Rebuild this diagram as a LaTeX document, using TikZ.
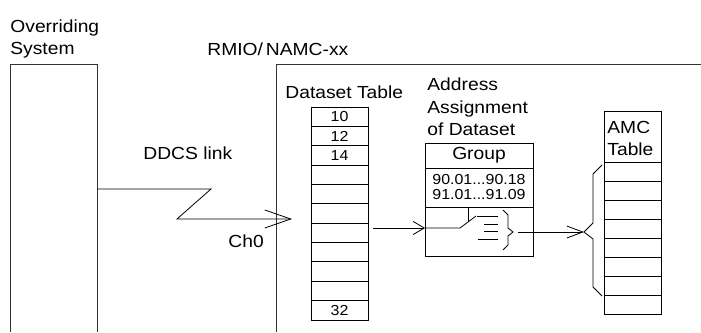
\documentclass[tikz,border=0pt]{standalone}
\usepackage{fontspec}
\setmainfont[FakeStretch=1.1]{Liberation Sans}
\usepackage{tikz}
\usetikzlibrary{arrows.meta, positioning}

\begin{document}
\begin{tikzpicture}[
    x=1pt, y=-1pt,
    line width=0.8pt,
    frame/.style = {draw=black!80},
    lbl/.style = {inner sep=0pt, align=left, font=\fontsize{17.5}{22.5}\selectfont},
    cell/.style = {rectangle, draw, minimum width=57pt, minimum height=19.36pt, inner sep=0pt, font=\fontsize{14.5}{15}\selectfont},
    amccell/.style = {cell, minimum height=19pt},
    grpbox/.style = {rectangle, draw, minimum width=108pt, inner sep=0pt, align=center}
]
    \useasboundingbox (0,0) rectangle (701,332);

    \draw [frame] (10,332) -- (10,64) -- (97,64) -- (97,332);
    \draw [frame] (276,332) -- (276,64) -- (701,64);

    \node [lbl, anchor=north west] (ovs) at (10,19) {Overriding\\System};
    \node [lbl, anchor=base west] (rmio) at (207,55) {RMIO/\,NAMC-xx};
    \node [lbl, anchor=base west] (ddcs) at (143,159) {DDCS link};
    \node [lbl, anchor=base west] (ch) at (228,247) {Ch0};
    \node [lbl, anchor=base west] (dstitle) at (285,98) {Dataset Table};
    \node [lbl, anchor=north west] (adtitle) at (427,77.5) {Address\\Assignment\\of Dataset};

    \foreach \i/\t in {1/10,2/12,3/14,4/,5/,6/,7/,8/,9/,10/,11/32}
        \node [cell] (ds\i) at (339.5,{107+19.36*\i-9.68}) {\t};

    \node [grpbox, minimum height=25pt, font=\fontsize{17.5}{20}\selectfont] (grp) at (479,155.5) {Group};
    \node [grpbox, minimum height=39pt, font=\fontsize{14.5}{15}\selectfont] (vals) at (479,187.5) {90.01...90.18\\91.01...91.09};
    \node [grpbox, minimum height=49pt] (sw) at (479,231.5) {};

    \node [rectangle, draw, minimum width=57pt, minimum height=51pt, inner sep=0pt] (amchd) at (632.5,136.5) {};
    \node [lbl, anchor=north west, font=\fontsize{17.5}{22}\selectfont] (amctitle) at (607,120.5) {AMC\\Table};
    \foreach \i in {1,...,8}
        \node [amccell] (amc\i) at (632.5,{162+19*\i-9.5}) {};

    \coordinate (ovsout) at (97,189);
    \coordinate (dsin) at (292,219);
    \coordinate (dsout) at (373,228);
    \coordinate (swin) at (425,228);
    \coordinate (swout) at (518,232);
    \coordinate (amcin) at (584,232);

    \draw [-{Straight Barb[length=26pt, width=18pt]}] (ovsout) -- (211,189) -- (177,219) -- (dsin);
    \draw [-{Straight Barb[length=11pt, width=13pt]}] (dsout) -- (swin);
    \draw [-{Straight Barb[length=16pt, width=12pt]}] (swout) -- (amcin);

    \draw (swin) -- (460,228) -- (476,216);
    \draw (468,207) -- (468,222);
    \foreach \y/\x in {216/477, 224/484, 231/484, 239/478}
        \draw (\x,\y) -- (498,\y);
    \draw (503,210) -- (508,215) -- (508,228) -- (513,232) -- (508,236) -- (508,245) -- (503,250);
    \draw (602,165) -- (593,174) -- (593,223) -- (584,232) -- (593,239) -- (593,287) -- (602,296);
\end{tikzpicture}
\end{document}
